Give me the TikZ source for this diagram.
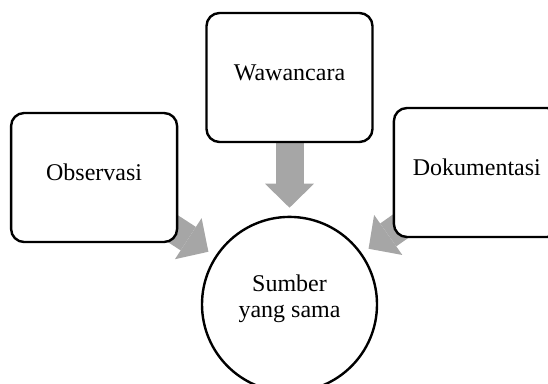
\documentclass[tikz,border=0pt]{standalone}
\usepackage{fontspec}
\setmainfont{Liberation Serif}
\usetikzlibrary{positioning, arrows.meta, backgrounds}
\definecolor{arrgray}{RGB}{166,166,166}
\tikzset{
  box/.style={draw, line width=2.4pt, rounded corners=13pt, fill=white,
    minimum width=166pt, minimum height=129pt, text height=16pt, text depth=11pt,
    font=\fontsize{24}{25.5}\selectfont},
  src/.style={circle, draw, line width=2.4pt, fill=white, minimum size=175pt,
    inner sep=0pt, align=center, text height=31pt, text depth=5pt,
    font=\fontsize{24}{25.5}\selectfont},
  blk/.style={draw=arrgray, line width=28pt, shorten >=8pt,
    -{Triangle[width=49pt, length=24pt, line width=0pt, fill=arrgray]}}
}

\begin{document}
\begin{tikzpicture}[x=1pt, y=-1pt]
  \useasboundingbox (0,0) rectangle (548,383);
  \node[box] (wwc) at (289.5,77.5) {Wawancara};
  \node[box, left=27pt of wwc, yshift=-100pt] (obs) {Observasi};
  \node[box, right=19pt of wwc, yshift=-95pt] (dok) {Dokumentasi};
  \node[src, below=72.5pt of wwc] (sum) {Sumber\\yang sama};
  % panah ke lingkaran
  \begin{scope}[on background layer]
    \draw[blk] (wwc.center) -- (sum);
    \draw[blk] (obs.center) -- (sum);
    \draw[blk] (dok.center) -- (sum);
  \end{scope}
\end{tikzpicture}
\end{document}
